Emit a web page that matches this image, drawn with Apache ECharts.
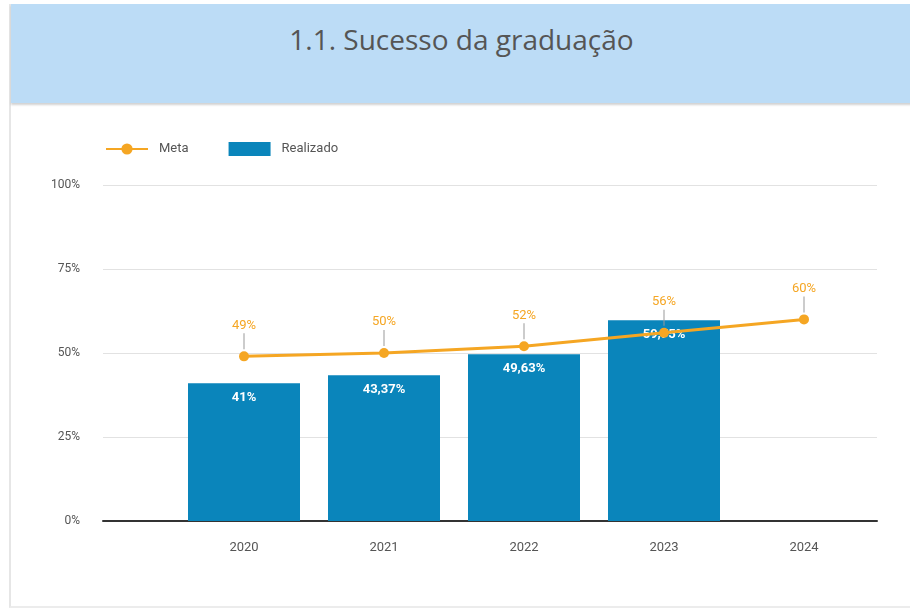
<!DOCTYPE html>
<html lang="pt">
<head>
    <meta charset="UTF-8">
    <title>1.1. Sucesso da graduação</title>
    <script src="https://cdn.jsdelivr.net/npm/echarts@6/dist/echarts.min.js"></script>
    <style>
        body { margin: 0; background: #fff; width: 910px; height: 609px; overflow: hidden; position: relative; }
        .card { position: absolute; left: 9px; top: 4px; width: 901px; height: 602px;
                border-left: 2px solid #e6e6e6; border-bottom: 2px solid #ececec; }
        .band { position: absolute; left: 0; top: 0; right: 0; height: 99px; background: #bcdcf6;
                box-shadow: 0 2px 2px rgba(0,0,0,0.18); }
        .band h1 { margin: 0; position: absolute; left: 0; right: 0; top: 16px; text-align: center;
                   font-family: "Open Sans", sans-serif; font-weight: 400; font-size: 28px; color: #555; }
        #chart_main { position: absolute; left: 0; top: 0; width: 910px; height: 609px; }
    </style>
</head>
<body>
<div class="card">
    <div class="band"><h1>1.1. Sucesso da graduação</h1></div>
</div>
<div id="chart_main"></div>
<script>
    // dados
    var anos = ['2020', '2021', '2022', '2023', '2024'];
    var realizado = [41, 43.37, 49.63, 59.75, null];
    var meta = [49, 50, 52, 56, 60];
    var yTicks = [0, 25, 50, 75, 100];

    var laranja = '#f5a623';
    var azul = '#0a85bb';

    function fmt(v) {
        return String(v).replace('.', ',') + '%';
    }

    var myChart = echarts.init(document.getElementById('chart_main'));
    var option = {
        animation: false,
        textStyle: { fontFamily: 'Roboto, sans-serif' },
        legend: {
            left: 100,
            top: 137,
            itemGap: 40,
            itemWidth: 42,
            itemHeight: 14,
            textStyle: { color: '#555', fontSize: 13, padding: [0, 0, 0, 6] },
            data: [
                { name: 'Meta' },
                { name: 'Realizado', icon: 'rect' }
            ]
        },
        grid: [
            { left: 103, right: 33, top: 185, bottom: 88 },
            { left: 174, right: 36, top: 185, bottom: 88 }
        ],
        xAxis: [
            {
                type: 'value', gridIndex: 0, min: 0, max: 1,
                axisLine: { show: true, onZero: false, lineStyle: { color: '#333', width: 2 } },
                axisTick: { show: false }, axisLabel: { show: false }, splitLine: { show: false }
            },
            {
                type: 'category', gridIndex: 1, data: anos,
                axisLine: { show: false }, axisTick: { show: false },
                axisLabel: { color: '#555', fontSize: 13, margin: 20 }
            }
        ],
        yAxis: [
            {
                type: 'value', gridIndex: 0, min: yTicks[0], max: yTicks[yTicks.length - 1], interval: 25,
                axisLine: { show: false }, axisTick: { show: false },
                axisLabel: { color: '#555', fontSize: 12, margin: 23, formatter: '{value}%' },
                splitLine: { lineStyle: { color: '#e2e2e2', width: 1 } }
            },
            {
                type: 'value', gridIndex: 1, min: 0, max: 100, show: false
            }
        ],
        series: [
            {
                name: 'Realizado',
                type: 'bar',
                xAxisIndex: 1, yAxisIndex: 1,
                data: realizado,
                barWidth: '80%',
                itemStyle: { color: azul },
                label: {
                    show: true, position: 'insideTop', distance: 8,
                    color: '#fff', fontWeight: 'bold', fontSize: 13,
                    formatter: function(p) { return fmt(p.value); }
                }
            },
            {
                name: 'Meta',
                type: 'line',
                xAxisIndex: 1, yAxisIndex: 1,
                data: meta,
                symbol: 'circle',
                symbolSize: 10,
                lineStyle: { color: laranja, width: 3 },
                itemStyle: { color: laranja },
                label: {
                    show: true, position: 'top', distance: 2,
                    formatter: function(p) { return '{v|' + p.value + '%}\n{s|}'; },
                    rich: {
                        v: { color: laranja, fontSize: 13, lineHeight: 16, align: 'center' },
                        s: { width: 1, height: 16, backgroundColor: '#999', align: 'center' }
                    }
                }
            }
        ]
    };
    myChart.setOption(option);
</script>
</body>
</html>
